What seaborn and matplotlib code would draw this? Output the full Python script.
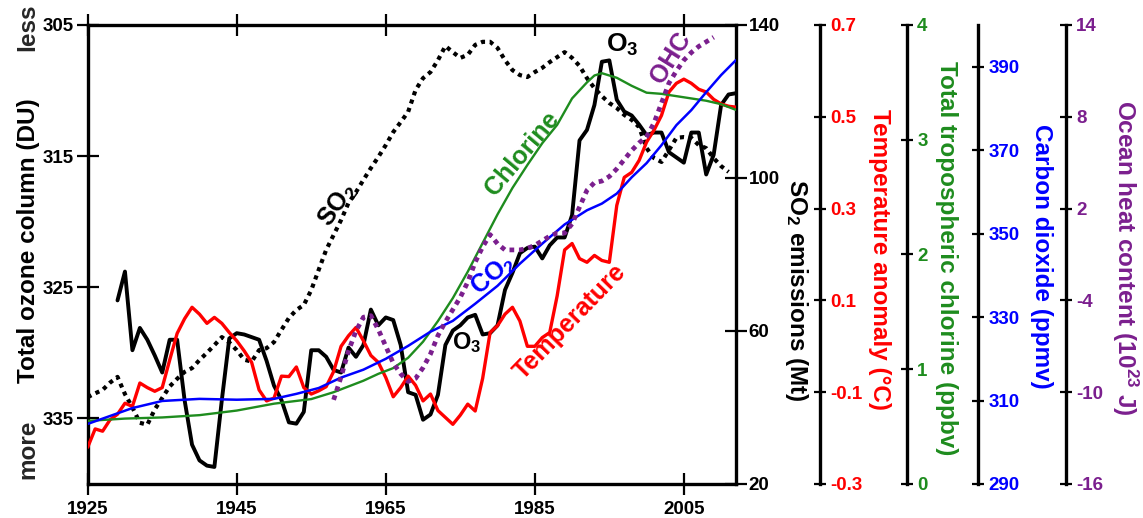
import matplotlib
matplotlib.use("Agg")
import matplotlib.pyplot as plt
import seaborn as sns
import pandas as pd
from matplotlib.ticker import FormatStrFormatter

# ---------------- data ----------------
o3_years = list(range(1929, 2013))
o3_du = [326.0, 323.8, 329.8, 328.1, 329.0, 330.2, 331.5, 329.0, 329.0, 333.6,
         337.0, 338.2, 338.6, 338.7, 333.6, 328.9, 328.5, 328.6, 328.8, 329.0,
         330.6, 332.5, 333.6, 335.3, 335.4, 334.5, 329.8, 329.8, 330.3, 331.3,
         331.5, 329.6, 330.3, 329.4, 326.7, 327.9, 327.3, 327.5, 329.4, 333.0,
         333.2, 335.1, 334.7, 333.2, 329.4, 328.3, 327.9, 327.3, 327.1, 328.6,
         328.5, 327.9, 325.2, 323.9, 322.4, 322.0, 321.9, 322.8, 321.8, 321.2,
         321.2, 319.5, 313.8, 313.0, 311.1, 307.8, 307.7, 310.7, 311.6, 311.9,
         312.6, 313.4, 313.2, 313.2, 314.7, 315.1, 315.5, 313.2, 313.2, 316.4,
         314.9, 311.1, 310.3, 310.2]

so2_years = list(range(1925, 2012))
so2_mt = [42.7, 43.7, 44.6, 46.5, 48.0, 43.5, 40.0, 36.0, 35.5, 39.5,
          42.5, 45.5, 47.5, 49.3, 50.3, 52.4, 54.3, 56.3, 58.4, 57.0,
          55.0, 52.5, 52.0, 55.0, 55.5, 57.1, 60.3, 63.4, 65.5, 66.8,
          70.7, 76.0, 81.2, 85.1, 89.0, 93.5, 96.3, 99.5, 102.6, 105.5,
          108.6, 112.0, 114.6, 117.3, 123.0, 126.1, 127.7, 130.8, 134.5, 132.9,
          131.4, 132.2, 134.8, 135.6, 135.6, 134.0, 130.8, 128.2, 126.9, 126.4,
          127.7, 128.8, 130.3, 131.6, 132.9, 131.4, 129.3, 126.1, 123.5, 121.4,
          119.6, 118.3, 116.5, 115.2, 113.3, 107.8, 105.2, 104.2, 107.3, 110.5,
          110.7, 110.5, 108.6, 107.8, 105.2, 103.1, 101.6]

temp_years = list(range(1925, 2013))
temp_anom = [-0.220, -0.180, -0.185, -0.160, -0.148, -0.124, -0.131, -0.080, -0.090, -0.098,
             -0.090, -0.030, 0.028, 0.060, 0.085, 0.070, 0.050, 0.063, 0.050, 0.030,
             0.012, -0.010, -0.035, -0.095, -0.119, -0.113, -0.065, -0.066, -0.045, -0.090,
             -0.104, -0.097, -0.088, -0.055, 0.000, 0.023, 0.041, 0.012, -0.020, -0.035,
             -0.068, -0.110, -0.090, -0.065, -0.085, -0.119, -0.104, -0.140, -0.155, -0.170,
             -0.150, -0.126, -0.141, -0.070, 0.030, 0.045, 0.070, 0.085, 0.055, 0.000,
             0.000, 0.019, 0.030, 0.110, 0.210, 0.224, 0.191, 0.183, 0.198, 0.187,
             0.183, 0.307, 0.368, 0.379, 0.405, 0.445, 0.471, 0.503, 0.554, 0.573,
             0.582, 0.573, 0.560, 0.554, 0.538, 0.528, 0.523, 0.521]

cl_years = [1925, 1930, 1935, 1940, 1945, 1950, 1955, 1958, 1960, 1962, 1964, 1966,
            1968, 1970, 1972, 1974, 1976, 1978, 1980, 1982, 1984, 1986, 1988, 1990,
            1992, 1993, 1994, 1995, 1996, 1998, 2000, 2002, 2004, 2006, 2008, 2010, 2012]
cl_ppbv = [0.55, 0.57, 0.58, 0.60, 0.64, 0.70, 0.74, 0.80, 0.85, 0.90, 0.96, 1.01,
           1.10, 1.24, 1.42, 1.62, 1.85, 2.10, 2.35, 2.58, 2.78, 2.97, 3.13, 3.36,
           3.50, 3.56, 3.58, 3.56, 3.54, 3.47, 3.41, 3.40, 3.38, 3.36, 3.34, 3.31, 3.26]

co2_years = [1925, 1928, 1931, 1935, 1940, 1945, 1950, 1953, 1956, 1959, 1962, 1965,
             1968, 1971, 1974, 1977, 1980, 1983, 1986, 1989, 1992, 1994, 1996, 1998,
             2000, 2002, 2004, 2006, 2008, 2010, 2012]
co2_ppmv = [304.4, 306.3, 308.2, 309.9, 310.4, 310.2, 310.4, 311.6, 313.0, 315.5, 317.4, 320.0,
            323.1, 326.5, 329.1, 333.2, 337.5, 342.8, 347.6, 352.2, 355.6, 357.2, 359.6, 363.5,
            366.9, 371.2, 376.0, 379.6, 383.9, 388.0, 391.6]

ohc_years = list(range(1958, 2010))
ohc_e23j = [-10.5, -9.0, -7.3, -6.0, -5.1, -5.0, -5.9, -7.0, -8.1, -8.8,
            -9.3, -9.1, -8.4, -7.5, -6.3, -5.4, -4.6, -3.8, -2.8, -1.5,
            -0.5, 0.3, -0.3, -0.7, -0.7, -0.7, -0.6, -0.4, -0.1, 0.2,
            0.4, 0.4, 1.0, 2.1, 3.2, 3.7, 3.8, 4.1, 4.6, 5.2,
            5.8, 6.3, 6.7, 7.6, 8.9, 10.2, 11.0, 11.7, 12.2, 12.6,
            12.9, 13.2]

year_ticks = [1925, 1945, 1965, 1985, 2005]
o3_ticks = [305, 315, 325, 335]
so2_ticks = [20, 60, 100, 140]
temp_ticks = [-0.3, -0.1, 0.1, 0.3, 0.5, 0.7]
cl_ticks = [0, 1, 2, 3, 4]
co2_ticks = [290, 310, 330, 350, 370, 390]
ohc_ticks = [-16, -10, -4, 2, 8, 14]

# ---------------- style ----------------
sns.set_theme(style="white")
plt.rcParams['font.family'] = ['Liberation Sans', 'DejaVu Sans']
plt.rcParams['font.weight'] = 'bold'
plt.rcParams['axes.unicode_minus'] = False
plt.rcParams['mathtext.fontset'] = 'custom'
plt.rcParams['mathtext.rm'] = 'Liberation Sans:bold'
plt.rcParams['mathtext.bf'] = 'Liberation Sans:bold'
plt.rcParams['mathtext.it'] = 'Liberation Sans:bold'
plt.rcParams['mathtext.default'] = 'bf'

RED = '#FF0000'
GREEN = '#1E8C1E'
BLUE = '#0000FF'
PURPLE = '#7B1F8E'
BLACK = '#000000'

TICK_FS = 13.5
LAB_FS = 17.5
ANN_FS = 18
SPINE_W = 2.4

fig = plt.figure(figsize=(11.43, 5.18), dpi=100)
ax = fig.add_axes([0.07673, 0.06564, 0.5672, 0.8861])
ax.set_facecolor('white')

ax_so2 = ax.twinx()
ax_t = ax.twinx()
ax_cl = ax.twinx()
ax_co2 = ax.twinx()
ax_ohc = ax.twinx()

# ---------------- series ----------------
sns.lineplot(x=cl_years, y=cl_ppbv, ax=ax_cl, color=GREEN, linewidth=1.7, zorder=2)
sns.lineplot(x=co2_years, y=co2_ppmv, ax=ax_co2, color=BLUE, linewidth=1.8, zorder=2)
sns.lineplot(x=ohc_years, y=ohc_e23j, ax=ax_ohc, color=PURPLE, linewidth=3.4,
             linestyle=(0, (1, 1)), zorder=2)
sns.lineplot(x=so2_years, y=so2_mt, ax=ax_so2, color=BLACK, linewidth=3.0,
             linestyle=(0, (1, 1.1)), zorder=2)
sns.lineplot(x=temp_years, y=temp_anom, ax=ax_t, color=RED, linewidth=2.4, zorder=3)
sns.lineplot(x=o3_years, y=o3_du, ax=ax, color=BLACK, linewidth=2.8, zorder=3)

# ---------------- main axes ----------------
ax.set_xlim(1925, 2012)
ax.set_ylim(340, 305)
ax.set_xticks(year_ticks)
ax.set_yticks(o3_ticks)
ax.set_xlabel('')
for s in ('left', 'top', 'bottom'):
    ax.spines[s].set_visible(True)
    ax.spines[s].set_linewidth(SPINE_W)
    ax.spines[s].set_color('black')
ax.spines['right'].set_visible(False)
ax.tick_params(axis='x', which='both', direction='inout', length=16, width=1.6,
               top=True, bottom=True, labeltop=False, labelsize=TICK_FS, pad=4, colors='black')
ax.tick_params(axis='y', which='both', direction='inout', length=16, width=1.6,
               left=True, right=False, labelsize=TICK_FS, pad=2, colors='black')
for lab in ax.get_xticklabels() + ax.get_yticklabels():
    lab.set_fontweight('bold')

ax.set_ylabel('Total ozone column (DU)', fontsize=LAB_FS, fontweight='bold', color='black')
ax.yaxis.set_label_coords(-0.092, 0.53)
ax.yaxis.label.set_verticalalignment('center')
ax.yaxis.label.set_horizontalalignment('center')
fig.text(28 / 1143, 1 - 27 / 518, 'less', rotation=90, fontsize=LAB_FS, fontweight='bold',
         ha='center', va='center')
fig.text(28 / 1143, 1 - 449 / 518, 'more', rotation=90, fontsize=LAB_FS, fontweight='bold',
         ha='center', va='center')

# ---------------- twin axes ----------------
def style_twin(a, pos, ylim, ticks, color, label, label_x, label_y, fmt=None, length=9):
    a.set_ylim(*ylim)
    a.set_yticks(ticks)
    if fmt is not None:
        a.yaxis.set_major_formatter(FormatStrFormatter(fmt))
    for s in ('left', 'top', 'bottom'):
        a.spines[s].set_visible(False)
    a.spines['right'].set_visible(True)
    a.spines['right'].set_position(('axes', pos))
    a.spines['right'].set_linewidth(SPINE_W)
    a.spines['right'].set_color('black')
    a.tick_params(axis='y', which='both', direction='inout', length=length, width=1.6,
                  right=True, left=False, labelright=True, labelleft=False,
                  labelsize=TICK_FS, labelcolor=color, color='black', pad=3)
    for lab in a.get_yticklabels():
        lab.set_fontweight('bold')
    a.set_xlabel('')
    a.yaxis.set_label_position('right')
    a.set_ylabel(label, fontsize=LAB_FS, fontweight='bold', color=color, rotation=-90)
    a.yaxis.set_label_coords(label_x, label_y)
    a.yaxis.label.set_verticalalignment('center')
    a.yaxis.label.set_horizontalalignment('center')
    a.grid(False)

style_twin(ax_so2, 1.0, (20, 140), so2_ticks, 'black', r'SO$_\mathbf{2}$ emissions (Mt)',
           1.094, 0.423, length=16)
style_twin(ax_t, 1.1296, (-0.3, 0.7), temp_ticks, RED, 'Temperature anomaly (°C)',
           1.222, 0.49, fmt='%.1f')
style_twin(ax_cl, 1.2633, (0, 4), cl_ticks, GREEN, 'Total tropospheric chlorine (ppbv)',
           1.325, 0.493)
style_twin(ax_co2, 1.3733, (290, 400), co2_ticks, BLUE, 'Carbon dioxide (ppmv)',
           1.4715, 0.496)
style_twin(ax_ohc, 1.5086, (-16, 14), ohc_ticks, PURPLE, r'Ocean heat content (10$^{\mathbf{23}}$ J)',
           1.600, 0.492)
ax_so2.tick_params(axis='y', pad=1)

# ---------------- in-plot annotations ----------------
def note(x, y, s, color, rot, fs=ANN_FS):
    ax_ohc.text(x, y, s, color=color, rotation=rot, fontsize=fs, fontweight='bold',
                ha='center', va='center', rotation_mode='anchor',
                transform=ax.transData, zorder=10)

note(1996.7, 306.5, r'O$_\mathbf{3}$', BLACK, 0, 19)
note(2003.2, 307.5, 'OHC', PURPLE, 58)
note(1983.3, 314.8, 'Chlorine', GREEN, 50)
note(1958.6, 318.7, r'SO$_\mathbf{2}$', BLACK, 55)
note(1979.4, 324.1, r'CO$_\mathbf{2}$', BLUE, 40)
note(1975.9, 329.2, r'O$_\mathbf{3}$', BLACK, 0, 17)
note(1989.7, 327.6, 'Temperature', RED, 46)

fig.savefig('out.png', dpi=100, facecolor='white')
